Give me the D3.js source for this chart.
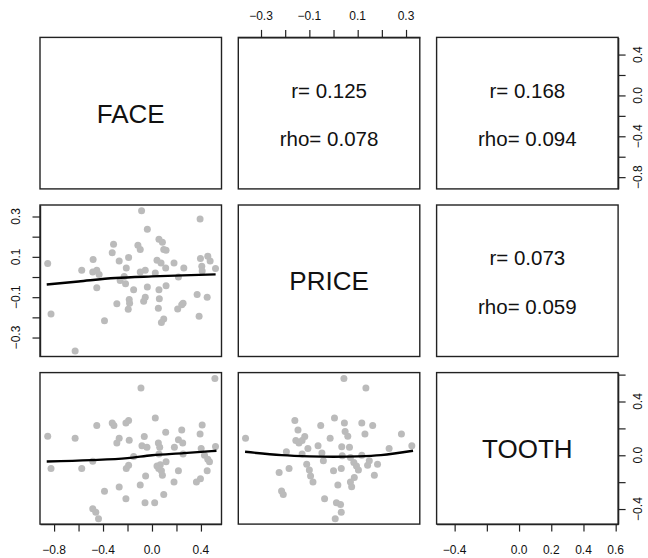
<!DOCTYPE html>
<html>
<head>
<meta charset="utf-8">
<script src="https://cdn.jsdelivr.net/npm/d3@7/dist/d3.min.js"></script>
<style>
  html, body { margin: 0; padding: 0; background: #fff; }
  svg { display: block; font-family: "Liberation Sans", Arial, Helvetica, sans-serif; }
</style>
</head>
<body>
<svg id="chart" width="648" height="558"></svg>
<script>
// ---------------- DATA ----------------
const varNames = ["FACE", "PRICE", "TOOTH"];
const faceLim = [-0.915, 0.568];
const priceLim = [-0.394, 0.357];
const toothLim = [-0.512, 0.615];

const faceTicks = [-0.8, -0.6, -0.4, -0.2, 0.0, 0.2, 0.4];
const faceLabels = [-0.8, -0.4, 0.0, 0.4];
const priceTicks = [-0.3, -0.2, -0.1, 0.0, 0.1, 0.2, 0.3];
const priceTopLabels = [-0.3, -0.1, 0.1, 0.3];
const priceLeftLabels = [-0.3, -0.1, 0.1, 0.3];
const toothTicks = [-0.4, -0.2, 0.0, 0.2, 0.4, 0.6];
const toothBottomLabels = [-0.4, 0.0, 0.2, 0.4, 0.6];
const toothRightLabels = [-0.4, 0.0, 0.4];

const corrR = ["0.125", "0.168", "0.073"];     // FACE-PRICE, FACE-TOOTH, PRICE-TOOTH
const corrRho = ["0.078", "0.094", "0.059"];

// FACE (x) vs PRICE (y)
const facePrice = [
  [-0.852, 0.067], [-0.825, -0.183], [-0.628, -0.367], [-0.574, 0.033], [-0.481, 0.087],
  [-0.484, 0.025], [-0.451, 0.033], [-0.432, 0.013], [-0.451, -0.053], [-0.388, -0.217],
  [-0.314, 0.163], [-0.325, 0.120], [-0.268, 0.080], [-0.287, -0.133], [-0.191, 0.097],
  [-0.210, 0.045], [-0.227, 0.003], [-0.260, -0.017], [-0.216, -0.033], [-0.150, -0.063],
  [-0.186, -0.112], [-0.183, -0.130], [-0.194, -0.160], [-0.115, 0.158], [-0.096, 0.137],
  [-0.085, 0.328], [-0.038, 0.237], [-0.096, 0.025], [-0.055, 0.033], [-0.038, -0.050],
  [-0.055, -0.100], [-0.068, -0.120], [0.027, 0.020], [0.041, 0.083], [0.074, 0.070],
  [0.057, 0.187], [0.085, 0.172], [0.096, 0.137], [0.115, 0.133], [0.112, 0.045],
  [0.057, -0.063], [0.115, -0.043], [0.060, -0.108], [0.052, -0.155], [0.096, -0.208],
  [0.077, -0.225], [0.180, 0.070], [0.216, 0.000], [0.260, 0.045], [0.210, -0.158],
  [0.243, -0.138], [0.254, -0.130], [0.369, -0.087], [0.385, -0.195], [0.393, 0.287],
  [0.396, 0.092], [0.407, 0.053], [0.410, 0.030], [0.456, 0.103], [0.475, 0.080],
  [0.519, 0.042], [0.451, -0.100]
];
const facePriceFit = [[-0.86, -0.037], [-0.6, -0.022], [-0.3, -0.005], [0.0, 0.003], [0.25, 0.008], [0.52, 0.013]];

// FACE (x) vs TOOTH (y)
const faceTooth = [
  [-0.852, 0.141], [-0.825, -0.099], [-0.628, 0.126], [-0.574, -0.099], [-0.484, -0.044],
  [-0.451, 0.221], [-0.484, -0.398], [-0.459, -0.423], [-0.437, -0.473], [-0.388, -0.268],
  [-0.325, 0.241], [-0.311, 0.221], [-0.268, 0.126], [-0.287, 0.091], [-0.268, -0.236],
  [-0.213, 0.241], [-0.191, 0.258], [-0.186, 0.111], [-0.213, -0.323], [-0.210, -0.099],
  [-0.191, -0.074], [-0.150, -0.009], [-0.090, 0.500], [-0.063, 0.139], [-0.082, 0.071],
  [-0.041, 0.059], [-0.052, -0.154], [-0.096, -0.221], [-0.057, -0.353], [0.027, 0.278],
  [0.022, -0.353], [0.052, 0.091], [0.063, 0.059], [0.057, 0.009], [0.041, -0.079],
  [0.068, -0.071], [0.055, -0.099], [0.077, -0.116], [0.085, -0.149], [0.096, -0.291],
  [0.112, 0.171], [0.115, -0.049], [0.183, 0.059], [0.216, 0.116], [0.243, 0.188],
  [0.251, 0.091], [0.254, 0.009], [0.216, -0.116], [0.180, -0.199], [0.393, 0.159],
  [0.410, 0.226], [0.402, 0.051], [0.429, 0.001], [0.456, -0.029], [0.470, -0.049],
  [0.451, -0.116], [0.396, -0.174], [0.363, -0.199], [0.519, 0.066], [0.514, 0.571]
];
const faceToothFit = [[-0.86, -0.046], [-0.5, -0.036], [-0.2, -0.021], [0.0, 0.0], [0.26, 0.016], [0.527, 0.034]];

// PRICE (x) vs TOOTH (y)
const priceTooth = [
  [-0.364, 0.126], [-0.225, -0.129], [-0.215, -0.266], [-0.208, -0.291], [-0.195, 0.026],
  [-0.184, -0.099], [-0.160, 0.258], [-0.147, 0.188], [-0.156, 0.109], [-0.143, 0.091],
  [-0.130, 0.109], [-0.119, 0.139], [-0.130, 0.009], [-0.106, 0.051], [-0.111, -0.066],
  [-0.100, -0.109], [-0.095, -0.154], [-0.085, -0.199], [-0.064, 0.071], [-0.053, 0.221],
  [-0.048, 0.016], [-0.042, -0.041], [-0.037, -0.323], [-0.014, 0.126], [0.004, 0.278],
  [0.000, -0.116], [0.018, -0.221], [0.012, -0.353], [0.029, -0.366], [0.032, -0.423],
  [0.007, -0.473], [0.032, -0.099], [0.034, 0.064], [0.045, 0.241], [0.048, 0.176],
  [0.059, 0.141], [0.066, 0.059], [0.043, 0.571], [0.134, 0.500], [0.117, 0.241],
  [0.130, 0.159], [0.162, 0.221], [0.070, -0.199], [0.075, -0.234], [0.086, -0.166],
  [0.084, -0.054], [0.095, -0.079], [0.103, -0.109], [0.117, 0.001], [0.141, -0.074],
  [0.148, -0.041], [0.182, -0.066], [0.169, -0.149], [0.230, 0.051], [0.281, 0.159],
  [0.324, 0.071], [0.070, -0.016], [0.036, -0.004]
];
const priceToothFit = [[-0.366, 0.026], [-0.215, 0.001], [-0.1, -0.008], [0.0, -0.011], [0.1, -0.008], [0.196, 0.001], [0.329, 0.034]];

// ---------------- LAYOUT ----------------
const svg = d3.select("#chart");
const colX0 = 40, colStep = 198.3, panelW = 181.5;
const rowY0 = 37.4, rowStep = 167.6, panelH = 151.5;
const limits = [faceLim, priceLim, toothLim];

const xScale = j => d3.scaleLinear().domain(limits[j]).range([colX0 + j * colStep, colX0 + j * colStep + panelW]);
const yScale = i => d3.scaleLinear().domain(limits[i]).range([rowY0 + i * rowStep + panelH, rowY0 + i * rowStep]);

const fmt = v => (v < 0 ? "\u2212" : "") + Math.abs(v).toFixed(1);
const tickLen = 7.5;
const labelFont = 12;

function scatter(i, j, pts, fit) {
  const xs = xScale(j), ys = yScale(i);
  const g = svg.append("g");
  g.selectAll("circle").data(pts).enter().append("circle")
    .attr("cx", d => xs(d[0])).attr("cy", d => ys(d[1]))
    .attr("r", 3.5).attr("fill", "#bbbbbb");
  g.append("path").datum(fit)
    .attr("d", d3.line().x(d => xs(d[0])).y(d => ys(d[1])).curve(d3.curveMonotoneX))
    .attr("fill", "none").attr("stroke", "#000").attr("stroke-width", 2.4);
}

scatter(1, 0, facePrice, facePriceFit);
scatter(2, 0, faceTooth, faceToothFit);
scatter(2, 1, priceTooth, priceToothFit);

// Diagonal names
varNames.forEach((name, k) => {
  const xs = xScale(k), ys = yScale(k);
  svg.append("text")
    .attr("x", (xs.range()[0] + xs.range()[1]) / 2)
    .attr("y", (ys.range()[0] + ys.range()[1]) / 2)
    .attr("dy", "0.36em")
    .attr("text-anchor", "middle")
    .attr("font-size", 26)
    .attr("fill", "#111")
    .text(name);
});

// Upper panels: correlations
const upper = [[0, 1], [0, 2], [1, 2]];
upper.forEach(([i, j], k) => {
  const xs = xScale(j), ys = yScale(i);
  const cx = (xs.range()[0] + xs.range()[1]) / 2;
  const cy = (ys.range()[0] + ys.range()[1]) / 2;
  svg.append("text").attr("x", cx).attr("y", cy - 23).attr("dy", "0.36em")
    .attr("text-anchor", "middle").attr("font-size", 20.5).attr("fill", "#111")
    .text("r= " + corrR[k]);
  svg.append("text").attr("x", cx).attr("y", cy + 25.5).attr("dy", "0.36em")
    .attr("text-anchor", "middle").attr("font-size", 20.5).attr("fill", "#111")
    .text("rho= " + corrRho[k]);
});

// Panel boxes
for (let i = 0; i < 3; i++) {
  for (let j = 0; j < 3; j++) {
    const xs = xScale(j), ys = yScale(i);
    svg.append("rect")
      .attr("x", xs.range()[0]).attr("y", ys.range()[1])
      .attr("width", panelW).attr("height", panelH)
      .attr("fill", "none").attr("stroke", "#222").attr("stroke-width", 1.4);
  }
}

// Axes (ticks via d3 axis, labels placed through the same scales)
function axisTicks(axisGen, transform) {
  const g = svg.append("g").attr("transform", transform)
    .call(axisGen.tickSizeInner(tickLen).tickSizeOuter(0).tickFormat(""));
  g.selectAll("line").attr("stroke", "#222").attr("stroke-width", 1.2);
  g.select(".domain").attr("stroke", "#222").attr("stroke-width", 1.4);
  return g;
}

// Bottom of column 1 (FACE)
{
  const xs = xScale(0), yb = yScale(2).range()[0];
  axisTicks(d3.axisBottom(xs).tickValues(faceTicks), `translate(0,${yb})`);
  svg.selectAll(null).data(faceLabels).enter().append("text")
    .attr("x", d => xs(d)).attr("y", 553.5).attr("text-anchor", "middle")
    .attr("font-size", labelFont).attr("fill", "#111").text(fmt);
}
// Bottom of column 3 (TOOTH)
{
  const xs = xScale(2), yb = yScale(2).range()[0];
  axisTicks(d3.axisBottom(xs).tickValues(toothTicks), `translate(0,${yb})`);
  svg.selectAll(null).data(toothBottomLabels).enter().append("text")
    .attr("x", d => xs(d)).attr("y", 553.5).attr("text-anchor", "middle")
    .attr("font-size", labelFont).attr("fill", "#111").text(fmt);
}
// Top of column 2 (PRICE)
{
  const xs = xScale(1), yt = yScale(0).range()[1];
  axisTicks(d3.axisTop(xs).tickValues(priceTicks), `translate(0,${yt})`);
  svg.selectAll(null).data(priceTopLabels).enter().append("text")
    .attr("x", d => xs(d)).attr("y", 20).attr("text-anchor", "middle")
    .attr("font-size", labelFont).attr("fill", "#111").text(fmt);
}
// Left of row 2 (PRICE)
{
  const ys = yScale(1), xl = xScale(0).range()[0];
  axisTicks(d3.axisLeft(ys).tickValues(priceTicks), `translate(${xl},0)`);
  svg.selectAll(null).data(priceLeftLabels).enter().append("text")
    .attr("transform", d => `translate(15.3,${ys(d)}) rotate(-90)`)
    .attr("dy", "0.36em").attr("text-anchor", "middle")
    .attr("font-size", labelFont).attr("fill", "#111").text(fmt);
}
// Right of row 1 (FACE)
{
  const ys = yScale(0), xr = xScale(2).range()[1];
  axisTicks(d3.axisRight(ys).tickValues(faceTicks), `translate(${xr},0)`);
  svg.selectAll(null).data(faceLabels).enter().append("text")
    .attr("transform", d => `translate(637.5,${ys(d)}) rotate(-90)`)
    .attr("dy", "0.36em").attr("text-anchor", "middle")
    .attr("font-size", labelFont).attr("fill", "#111").text(fmt);
}
// Right of row 3 (TOOTH)
{
  const ys = yScale(2), xr = xScale(2).range()[1];
  axisTicks(d3.axisRight(ys).tickValues(toothTicks), `translate(${xr},0)`);
  svg.selectAll(null).data(toothRightLabels).enter().append("text")
    .attr("transform", d => `translate(637.5,${ys(d)}) rotate(-90)`)
    .attr("dy", "0.36em").attr("text-anchor", "middle")
    .attr("font-size", labelFont).attr("fill", "#111").text(fmt);
}
</script>
</body>
</html>
